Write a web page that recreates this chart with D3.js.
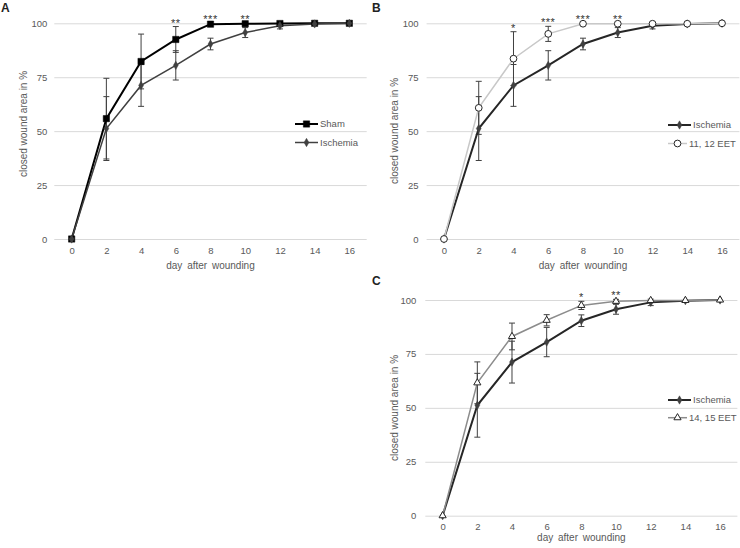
<!DOCTYPE html>
<html>
<head>
<meta charset="utf-8">
<script src="https://cdn.jsdelivr.net/npm/d3@7"></script>
<style>
  html, body { margin: 0; padding: 0; background: #fff; }
  svg { display: block; font-family: "Liberation Sans", Arial, sans-serif; }
</style>
</head>
<body>
<svg id="chart" width="740" height="548"></svg>
<script>
// ---- data ----
const days = [0, 2, 4, 6, 8, 10, 12, 14, 16];
const yTicks = [0, 25, 50, 75, 100];

const shamMean = [0, 55.8, 82.3, 92.5, 99.6, 99.8, 99.9, 100, 100];
const shamErr  = [0, 18.7, 12.7, 6.0, 0.5, 0.3, 0, 0, 0];

const ischMean = [0, 51.2, 71.2, 80.5, 90.4, 95.7, 98.9, 99.7, 100];
const ischErr  = [0, 14.8, 9.7, 6.8, 2.7, 2.3, 1.5, 0.3, 0];

const eet1112Mean = [0, 60.8, 83.6, 95.1, 99.8, 99.8, 99.8, 99.8, 100];
const eet1112Err  = [0, 12.3, 12.5, 3.5, 0.3, 0.5, 0.3, 0, 0];

const eet1415Mean = [0, 61.6, 83.1, 90.6, 97.5, 99.4, 99.8, 99.8, 100];
const eet1415Err  = [0, 9.7, 6.2, 2.6, 1.9, 0.9, 0.3, 0, 0];

const starsA = ["", "", "", "**", "***", "**", "", "", ""];
const starsB = ["", "", "*", "***", "***", "**", "", "", ""];
const starsC = ["", "", "", "", "*", "**", "", "", ""];

const panelLabels = ["A", "B", "C"];
const xTitle = "day after wounding";
const yTitle = "closed wound area in %";

// ---- drawing ----
const svg = d3.select("#chart");
const textColor = "#595959";

const sym = {
  square:   d3.symbol().type(d3.symbolSquare).size(40),
  diamond:  d3.symbol().type(d3.symbolDiamond).size(20),
  circle:   d3.symbol().type(d3.symbolCircle).size(36),
  triangle: d3.symbol().type(d3.symbolTriangle).size(22)
};

function drawPanel(cfg) {
  const g = svg.append("g");
  const x = d3.scalePoint().domain(days).range([cfg.x0, cfg.x1]).padding(0.5);
  const y = d3.scaleLinear().domain([0, 100]).range([cfg.yb, cfg.yt]);

  // y axis with gridlines
  const ya = g.append("g").attr("transform", `translate(${cfg.x0},0)`)
    .call(d3.axisLeft(y).tickValues(yTicks).tickSize(-(cfg.x1 - cfg.x0)).tickPadding(cfg.yPad));
  ya.select(".domain").remove();
  ya.selectAll(".tick line").attr("stroke", "#d9d9d9").attr("stroke-width", 1);
  ya.selectAll(".tick text").attr("fill", textColor).attr("font-size", 9.5)
    .attr("font-family", "Liberation Sans, Arial, sans-serif");

  // x axis labels
  const xa = g.append("g").attr("transform", `translate(0,${cfg.yb})`)
    .call(d3.axisBottom(x).tickSize(0).tickPadding(8));
  xa.select(".domain").remove();
  xa.selectAll(".tick text").attr("fill", textColor).attr("font-size", 9.5)
    .attr("font-family", "Liberation Sans, Arial, sans-serif");

  // titles
  g.append("text").attr("x", (cfg.x0 + cfg.x1) / 2).attr("y", cfg.yb + cfg.xTitleOff)
    .attr("text-anchor", "middle").attr("fill", textColor).attr("font-size", 10)
    .attr("word-spacing", 2).text(xTitle);
  g.append("text")
    .attr("transform", `translate(${cfg.yTitleX},${cfg.yTitleY}) rotate(-90)`)
    .attr("text-anchor", "middle").attr("fill", textColor).attr("font-size", 10)
    .text(yTitle);

  // panel label
  g.append("text").attr("x", cfg.labX).attr("y", cfg.labY)
    .attr("font-size", 12).attr("font-weight", "bold").attr("fill", "#222")
    .text(cfg.label);

  // error bars
  cfg.series.forEach(s => {
    const pts = days.map((d, i) => ({ d, m: s.mean[i], e: s.err[i] }));
    const eb = g.append("g").attr("stroke", "#404040").attr("stroke-width", 1);
    pts.filter(p => p.e > 0.6).forEach(p => {
      const cx = x(p.d);
      eb.append("line").attr("x1", cx).attr("x2", cx).attr("y1", y(p.m - p.e)).attr("y2", y(p.m + p.e));
      [p.m - p.e, p.m + p.e].forEach(v => {
        eb.append("line").attr("x1", cx - 3).attr("x2", cx + 3).attr("y1", y(v)).attr("y2", y(v));
      });
    });
  });
  // lines
  cfg.series.forEach(s => {
    const pts = days.map((d, i) => ({ d, m: s.mean[i] }));
    g.append("path").datum(pts)
      .attr("fill", "none").attr("stroke", s.color).attr("stroke-width", s.width)
      .attr("d", d3.line().x(p => x(p.d)).y(p => y(p.m)));
  });
  // markers
  cfg.series.forEach(s => {
    const pts = days.map((d, i) => ({ d, m: s.mean[i] }));
    g.append("g").selectAll("path").data(pts).join("path")
      .attr("transform", p => `translate(${x(p.d)},${y(p.m)})`)
      .attr("d", sym[s.marker]())
      .attr("fill", s.fill).attr("stroke", s.mstroke).attr("stroke-width", s.mstrokeW);
  });

  // significance stars
  days.forEach((d, i) => {
    if (!cfg.stars[i]) return;
    const top = d3.max(cfg.series, s => s.mean[i] + s.err[i]);
    g.append("text").attr("x", x(d)).attr("y", y(top))
      .attr("text-anchor", "middle").attr("font-size", 11).attr("fill", "#333")
      .attr("letter-spacing", 0.5)
      .text(cfg.stars[i]);
  });

  // legend
  cfg.series.forEach((s, k) => {
    const ly = cfg.legY + k * cfg.legStep;
    g.append("line").attr("x1", cfg.legX).attr("x2", cfg.legX + s.legLen)
      .attr("y1", ly).attr("y2", ly).attr("stroke", s.color).attr("stroke-width", s.width);
    g.append("path").attr("transform", `translate(${cfg.legX + s.legLen / 2},${ly})`)
      .attr("d", sym[s.marker]()).attr("fill", s.fill).attr("stroke", s.mstroke).attr("stroke-width", s.mstrokeW);
    g.append("text").attr("x", cfg.legX + s.legLen + 2).attr("y", ly).attr("dy", "0.35em")
      .attr("font-size", 9.5).attr("fill", textColor).text(s.name);
  });
}

const ischA = { name: "Ischemia", mean: ischMean, err: ischErr, color: "#404040", width: 1.5,
  marker: "diamond", fill: "#404040", mstroke: "#404040", mstrokeW: 0.5, legLen: 23 };
const ischBC = { name: "Ischemia", mean: ischMean, err: ischErr, color: "#262626", width: 2,
  marker: "diamond", fill: "#404040", mstroke: "#404040", mstrokeW: 0.5, legLen: 23 };

drawPanel({
  label: panelLabels[0], labX: 1, labY: 12,
  x0: 54.3, x1: 366.7, yb: 239, yt: 23.3, yPad: 7,
  xTitleOff: 29.5, yTitleX: 27, yTitleY: 124,
  stars: starsA, legX: 295, legY: 124, legStep: 18.5,
  series: [
    { name: "Sham", mean: shamMean, err: shamErr, color: "#000", width: 2,
      marker: "square", fill: "#000", mstroke: "#000", mstrokeW: 0.5, legLen: 23 },
    ischA
  ]
});

drawPanel({
  label: panelLabels[1], labX: 372, labY: 12,
  x0: 426.6, x1: 739.4, yb: 239, yt: 23.3, yPad: 8,
  xTitleOff: 29.5, yTitleX: 398, yTitleY: 131,
  stars: starsB, legX: 668, legY: 125, legStep: 18.5,
  series: [
    ischBC,
    { name: "11, 12 EET", mean: eet1112Mean, err: eet1112Err, color: "#c8c8c8", width: 1.5,
      marker: "circle", fill: "#fff", mstroke: "#262626", mstrokeW: 1, legLen: 19 }
  ]
});

drawPanel({
  label: panelLabels[2], labX: 372, labY: 285,
  x0: 425.3, x1: 737.4, yb: 515.7, yt: 300, yPad: 9,
  xTitleOff: 25.5, yTitleX: 398, yTitleY: 408,
  stars: starsC, legX: 668, legY: 400, legStep: 17.7,
  series: [
    ischBC,
    { name: "14, 15 EET", mean: eet1415Mean, err: eet1415Err, color: "#8c8c8c", width: 1.5,
      marker: "triangle", fill: "#fff", mstroke: "#262626", mstrokeW: 1, legLen: 19 }
  ]
});
</script>
</body>
</html>
